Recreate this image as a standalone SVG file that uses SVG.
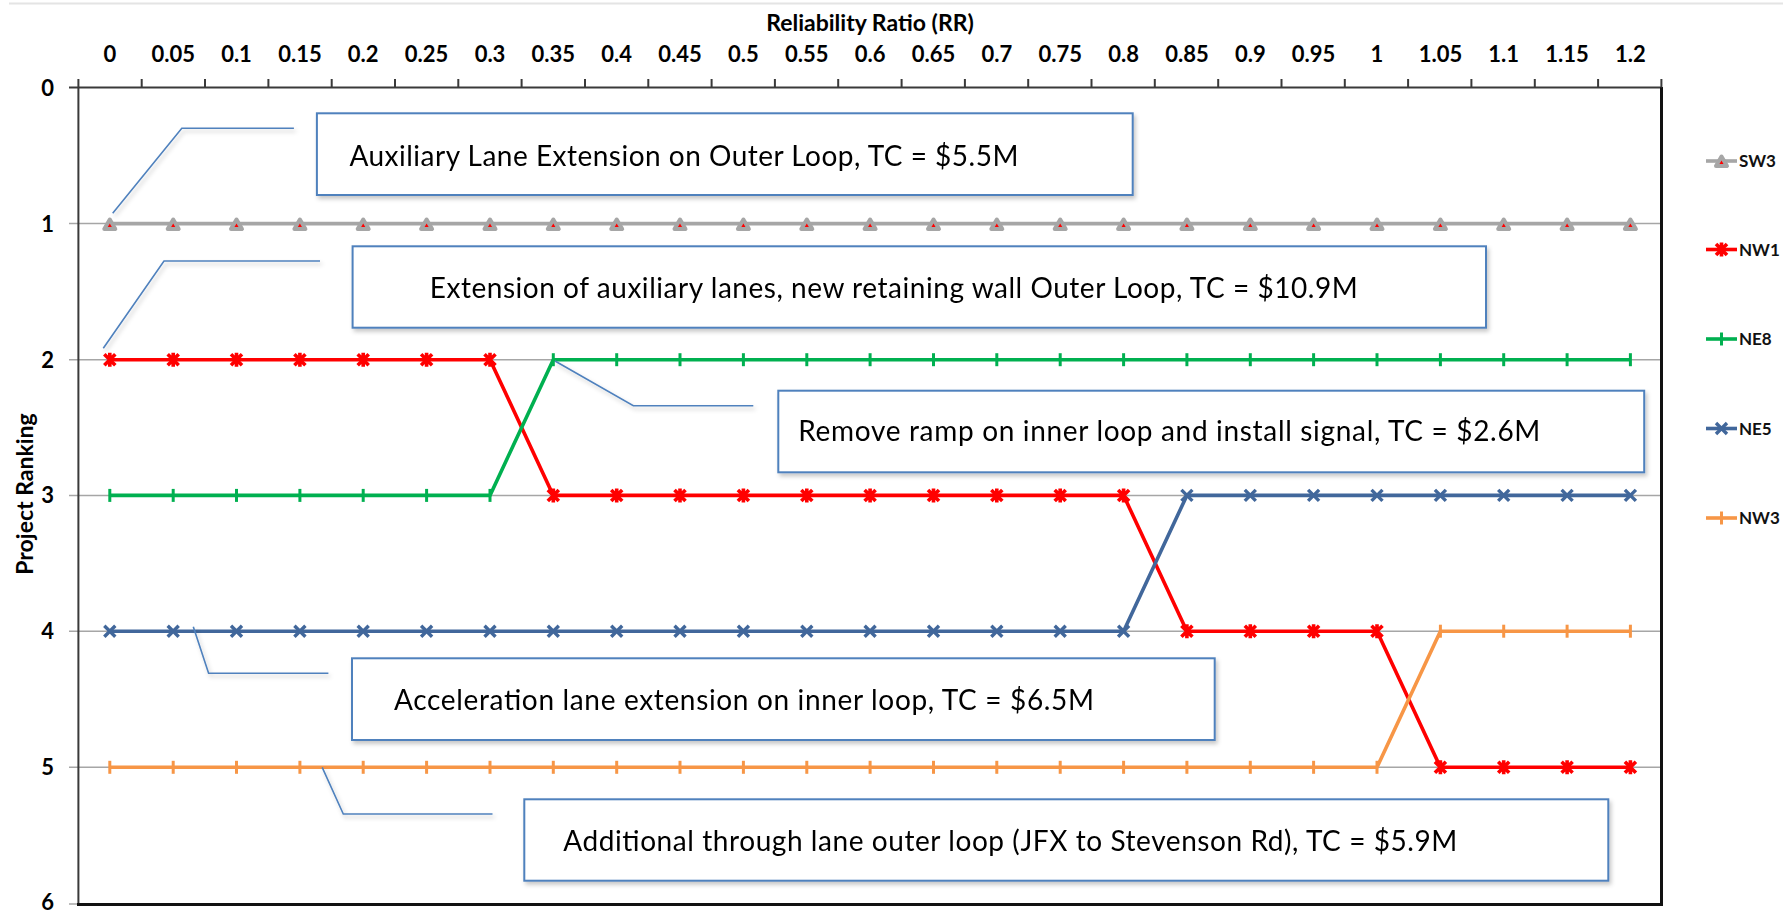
<svg xmlns="http://www.w3.org/2000/svg" xmlns:xlink="http://www.w3.org/1999/xlink" width="1783" height="912" viewBox="0 0 1783 912">
  <style>
    .tick { font-family: Lato, "Liberation Sans", sans-serif; font-weight: bold; font-size: 22px; fill: #000; }
    .xt { text-anchor: middle; }
    .yt { text-anchor: end; }
    .title { font-family: Lato, "Liberation Sans", sans-serif; font-weight: bold; font-size: 23px; fill: #000; text-anchor: middle; }
    .leg { font-family: Lato, "Liberation Sans", sans-serif; font-weight: bold; font-size: 17px; fill: #111; }
    .note { font-family: Lato, "Liberation Sans", sans-serif; font-size: 28px; fill: #000; }
    .box { fill: #fff; stroke: #4f81bd; stroke-width: 2; }
    .leader { fill: none; stroke: #4f81bd; stroke-width: 1.6; }
    .grid { stroke: #a6a6a6; stroke-width: 1.5; }
    .axis { stroke: #3a3a3a; stroke-width: 2; }
    .axis2 { stroke: #111; stroke-width: 3; }
    .series { fill: none; stroke-width: 3.6; stroke-linejoin: round; }
  </style>
  <defs>
    <filter id="shadow" filterUnits="userSpaceOnUse" x="0" y="0" width="1783" height="912">
      <feDropShadow dx="2" dy="3" stdDeviation="2" flood-color="#000" flood-opacity="0.22"/>
    </filter>
    <!-- SW3: red triangle with heavy grey rim -->
    <path id="m-tri" d="M0,-5 L5.5,4.5 L-5.5,4.5 Z" fill="#ff0000" stroke="#a6a6a6" stroke-width="4" stroke-linejoin="round"/>
    <!-- NW1: star (x plus vertical bar) -->
    <path id="m-star" d="M-5.5,-5.5 L5.5,5.5 M5.5,-5.5 L-5.5,5.5 M0,-7 V7" fill="none" stroke="#ff0000" stroke-width="3.6"/>
    <!-- NE8 / NW3: plus -->
    <path id="m-plus-g" d="M0,-6.5 V6.5" stroke="#00b050" stroke-width="3"/>
    <path id="m-plus-o" d="M0,-6.5 V6.5" stroke="#f79646" stroke-width="3"/>
    <!-- NE5: cross -->
    <path id="m-x" d="M-5.5,-5.5 L5.5,5.5 M5.5,-5.5 L-5.5,5.5" fill="none" stroke="#41679b" stroke-width="3.4"/>
  </defs>

  <rect width="1783" height="912" fill="#fff"/>

  <!-- worksheet header rule along the top edge -->
  <g id="sheet-edge" stroke="#e4e4e4">
    <line x1="9" y1="3.5" x2="1783" y2="3.5" stroke-width="2"/>
  </g>

  <!-- axis titles -->
  <g id="axis-titles">
    <text class="title" x="870" y="31">Reliability Ratio (RR)</text>
    <text class="title" transform="translate(33,494) rotate(-90)">Project Ranking</text>
  </g>

  <!-- horizontal gridlines with left tick stubs -->
  <g id="gridlines" class="grid">
    <line x1="69" y1="223.6" x2="1661" y2="223.6"/>
    <line x1="69" y1="359.7" x2="1661" y2="359.7"/>
    <line x1="69" y1="495.4" x2="1661" y2="495.4"/>
    <line x1="69" y1="631.2" x2="1661" y2="631.2"/>
    <line x1="69" y1="767.3" x2="1661" y2="767.3"/>
    <line x1="69" y1="904" x2="78" y2="904"/>
  </g>

  <!-- plot frame and top category axis -->
  <g id="axes">
    <line class="axis" x1="69" y1="87.5" x2="1661" y2="87.5"/>
    <line class="axis" x1="78.4" y1="87.5" x2="78.4" y2="905"/>
    <line class="axis2" x1="1661.5" y1="87" x2="1661.5" y2="905.5"/>
    <line class="axis2" x1="77" y1="904.5" x2="1663" y2="904.5"/>
    <path class="axis" stroke-width="1.4" d="M78.4,87.5V79 M141.7,87.5V79 M205,87.5V79 M268.4,87.5V79 M331.7,87.5V79 M395,87.5V79 M458.3,87.5V79 M521.6,87.5V79 M585,87.5V79 M648.3,87.5V79 M711.6,87.5V79 M774.9,87.5V79 M838.2,87.5V79 M901.6,87.5V79 M964.9,87.5V79 M1028.2,87.5V79 M1091.5,87.5V79 M1154.8,87.5V79 M1218.2,87.5V79 M1281.5,87.5V79 M1344.8,87.5V79 M1408.1,87.5V79 M1471.4,87.5V79 M1534.8,87.5V79 M1598.1,87.5V79 M1661.4,87.5V79"/>
  </g>

  <!-- category labels -->
  <g id="x-labels" class="tick xt">
    <text x="109.8" y="61.5">0</text>
    <text x="173.2" y="61.5">0.05</text>
    <text x="236.5" y="61.5">0.1</text>
    <text x="299.9" y="61.5">0.15</text>
    <text x="363.2" y="61.5">0.2</text>
    <text x="426.6" y="61.5">0.25</text>
    <text x="490" y="61.5">0.3</text>
    <text x="553.3" y="61.5">0.35</text>
    <text x="616.7" y="61.5">0.4</text>
    <text x="680" y="61.5">0.45</text>
    <text x="743.4" y="61.5">0.5</text>
    <text x="806.8" y="61.5">0.55</text>
    <text x="870.1" y="61.5">0.6</text>
    <text x="933.5" y="61.5">0.65</text>
    <text x="996.8" y="61.5">0.7</text>
    <text x="1060.2" y="61.5">0.75</text>
    <text x="1123.6" y="61.5">0.8</text>
    <text x="1186.9" y="61.5">0.85</text>
    <text x="1250.3" y="61.5">0.9</text>
    <text x="1313.6" y="61.5">0.95</text>
    <text x="1377" y="61.5">1</text>
    <text x="1440.4" y="61.5">1.05</text>
    <text x="1503.7" y="61.5">1.1</text>
    <text x="1567.1" y="61.5">1.15</text>
    <text x="1630.4" y="61.5">1.2</text>
  </g>

  <!-- ranking labels -->
  <g id="y-labels" class="tick yt">
    <text x="54" y="95.5">0</text>
    <text x="54" y="231.6">1</text>
    <text x="54" y="367.7">2</text>
    <text x="54" y="503.4">3</text>
    <text x="54" y="639.2">4</text>
    <text x="54" y="775.3">5</text>
    <text x="54" y="909.5">6</text>
  </g>

  <!-- data series -->
  <g id="series-SW3">
    <polyline class="series" stroke="#a6a6a6" points="109.8,223.6 1630.4,223.6"/>
    <use xlink:href="#m-tri" x="109.8" y="224.5"/><use xlink:href="#m-tri" x="173.2" y="224.5"/><use xlink:href="#m-tri" x="236.5" y="224.5"/><use xlink:href="#m-tri" x="299.9" y="224.5"/><use xlink:href="#m-tri" x="363.2" y="224.5"/><use xlink:href="#m-tri" x="426.6" y="224.5"/><use xlink:href="#m-tri" x="490" y="224.5"/><use xlink:href="#m-tri" x="553.3" y="224.5"/><use xlink:href="#m-tri" x="616.7" y="224.5"/><use xlink:href="#m-tri" x="680" y="224.5"/><use xlink:href="#m-tri" x="743.4" y="224.5"/><use xlink:href="#m-tri" x="806.8" y="224.5"/><use xlink:href="#m-tri" x="870.1" y="224.5"/><use xlink:href="#m-tri" x="933.5" y="224.5"/><use xlink:href="#m-tri" x="996.8" y="224.5"/><use xlink:href="#m-tri" x="1060.2" y="224.5"/><use xlink:href="#m-tri" x="1123.6" y="224.5"/><use xlink:href="#m-tri" x="1186.9" y="224.5"/><use xlink:href="#m-tri" x="1250.3" y="224.5"/><use xlink:href="#m-tri" x="1313.6" y="224.5"/><use xlink:href="#m-tri" x="1377" y="224.5"/><use xlink:href="#m-tri" x="1440.4" y="224.5"/><use xlink:href="#m-tri" x="1503.7" y="224.5"/><use xlink:href="#m-tri" x="1567.1" y="224.5"/><use xlink:href="#m-tri" x="1630.4" y="224.5"/>
  </g>

  <g id="series-NW1">
    <polyline class="series" stroke="#ff0000" points="109.8,359.7 490,359.7 553.3,495.4 1123.6,495.4 1186.9,631.2 1377,631.2 1440.4,767.3 1630.4,767.3"/>
    <use xlink:href="#m-star" x="109.8" y="359.7"/><use xlink:href="#m-star" x="173.2" y="359.7"/><use xlink:href="#m-star" x="236.5" y="359.7"/><use xlink:href="#m-star" x="299.9" y="359.7"/><use xlink:href="#m-star" x="363.2" y="359.7"/><use xlink:href="#m-star" x="426.6" y="359.7"/><use xlink:href="#m-star" x="490" y="359.7"/>
    <use xlink:href="#m-star" x="553.3" y="495.4"/><use xlink:href="#m-star" x="616.7" y="495.4"/><use xlink:href="#m-star" x="680" y="495.4"/><use xlink:href="#m-star" x="743.4" y="495.4"/><use xlink:href="#m-star" x="806.8" y="495.4"/><use xlink:href="#m-star" x="870.1" y="495.4"/><use xlink:href="#m-star" x="933.5" y="495.4"/><use xlink:href="#m-star" x="996.8" y="495.4"/><use xlink:href="#m-star" x="1060.2" y="495.4"/><use xlink:href="#m-star" x="1123.6" y="495.4"/>
    <use xlink:href="#m-star" x="1186.9" y="631.2"/><use xlink:href="#m-star" x="1250.3" y="631.2"/><use xlink:href="#m-star" x="1313.6" y="631.2"/><use xlink:href="#m-star" x="1377" y="631.2"/>
    <use xlink:href="#m-star" x="1440.4" y="767.3"/><use xlink:href="#m-star" x="1503.7" y="767.3"/><use xlink:href="#m-star" x="1567.1" y="767.3"/><use xlink:href="#m-star" x="1630.4" y="767.3"/>
  </g>

  <g id="series-NE8">
    <polyline class="series" stroke="#00b050" points="109.8,495.4 490,495.4 553.3,359.7 1630.4,359.7"/>
    <use xlink:href="#m-plus-g" x="109.8" y="495.4"/><use xlink:href="#m-plus-g" x="173.2" y="495.4"/><use xlink:href="#m-plus-g" x="236.5" y="495.4"/><use xlink:href="#m-plus-g" x="299.9" y="495.4"/><use xlink:href="#m-plus-g" x="363.2" y="495.4"/><use xlink:href="#m-plus-g" x="426.6" y="495.4"/><use xlink:href="#m-plus-g" x="490" y="495.4"/>
    <use xlink:href="#m-plus-g" x="553.3" y="359.7"/><use xlink:href="#m-plus-g" x="616.7" y="359.7"/><use xlink:href="#m-plus-g" x="680" y="359.7"/><use xlink:href="#m-plus-g" x="743.4" y="359.7"/><use xlink:href="#m-plus-g" x="806.8" y="359.7"/><use xlink:href="#m-plus-g" x="870.1" y="359.7"/><use xlink:href="#m-plus-g" x="933.5" y="359.7"/><use xlink:href="#m-plus-g" x="996.8" y="359.7"/><use xlink:href="#m-plus-g" x="1060.2" y="359.7"/><use xlink:href="#m-plus-g" x="1123.6" y="359.7"/><use xlink:href="#m-plus-g" x="1186.9" y="359.7"/><use xlink:href="#m-plus-g" x="1250.3" y="359.7"/><use xlink:href="#m-plus-g" x="1313.6" y="359.7"/><use xlink:href="#m-plus-g" x="1377" y="359.7"/><use xlink:href="#m-plus-g" x="1440.4" y="359.7"/><use xlink:href="#m-plus-g" x="1503.7" y="359.7"/><use xlink:href="#m-plus-g" x="1567.1" y="359.7"/><use xlink:href="#m-plus-g" x="1630.4" y="359.7"/>
  </g>

  <g id="series-NE5">
    <polyline class="series" stroke="#41679b" points="109.8,631.2 1123.6,631.2 1186.9,495.4 1630.4,495.4"/>
    <use xlink:href="#m-x" x="109.8" y="631.2"/><use xlink:href="#m-x" x="173.2" y="631.2"/><use xlink:href="#m-x" x="236.5" y="631.2"/><use xlink:href="#m-x" x="299.9" y="631.2"/><use xlink:href="#m-x" x="363.2" y="631.2"/><use xlink:href="#m-x" x="426.6" y="631.2"/><use xlink:href="#m-x" x="490" y="631.2"/><use xlink:href="#m-x" x="553.3" y="631.2"/><use xlink:href="#m-x" x="616.7" y="631.2"/><use xlink:href="#m-x" x="680" y="631.2"/><use xlink:href="#m-x" x="743.4" y="631.2"/><use xlink:href="#m-x" x="806.8" y="631.2"/><use xlink:href="#m-x" x="870.1" y="631.2"/><use xlink:href="#m-x" x="933.5" y="631.2"/><use xlink:href="#m-x" x="996.8" y="631.2"/><use xlink:href="#m-x" x="1060.2" y="631.2"/><use xlink:href="#m-x" x="1123.6" y="631.2"/>
    <use xlink:href="#m-x" x="1186.9" y="495.4"/><use xlink:href="#m-x" x="1250.3" y="495.4"/><use xlink:href="#m-x" x="1313.6" y="495.4"/><use xlink:href="#m-x" x="1377" y="495.4"/><use xlink:href="#m-x" x="1440.4" y="495.4"/><use xlink:href="#m-x" x="1503.7" y="495.4"/><use xlink:href="#m-x" x="1567.1" y="495.4"/><use xlink:href="#m-x" x="1630.4" y="495.4"/>
  </g>

  <g id="series-NW3">
    <polyline class="series" stroke="#f79646" points="109.8,767.3 1377,767.3 1440.4,631.2 1630.4,631.2"/>
    <use xlink:href="#m-plus-o" x="109.8" y="767.3"/><use xlink:href="#m-plus-o" x="173.2" y="767.3"/><use xlink:href="#m-plus-o" x="236.5" y="767.3"/><use xlink:href="#m-plus-o" x="299.9" y="767.3"/><use xlink:href="#m-plus-o" x="363.2" y="767.3"/><use xlink:href="#m-plus-o" x="426.6" y="767.3"/><use xlink:href="#m-plus-o" x="490" y="767.3"/><use xlink:href="#m-plus-o" x="553.3" y="767.3"/><use xlink:href="#m-plus-o" x="616.7" y="767.3"/><use xlink:href="#m-plus-o" x="680" y="767.3"/><use xlink:href="#m-plus-o" x="743.4" y="767.3"/><use xlink:href="#m-plus-o" x="806.8" y="767.3"/><use xlink:href="#m-plus-o" x="870.1" y="767.3"/><use xlink:href="#m-plus-o" x="933.5" y="767.3"/><use xlink:href="#m-plus-o" x="996.8" y="767.3"/><use xlink:href="#m-plus-o" x="1060.2" y="767.3"/><use xlink:href="#m-plus-o" x="1123.6" y="767.3"/><use xlink:href="#m-plus-o" x="1186.9" y="767.3"/><use xlink:href="#m-plus-o" x="1250.3" y="767.3"/><use xlink:href="#m-plus-o" x="1313.6" y="767.3"/><use xlink:href="#m-plus-o" x="1377" y="767.3"/>
    <use xlink:href="#m-plus-o" x="1440.4" y="631.2"/><use xlink:href="#m-plus-o" x="1503.7" y="631.2"/><use xlink:href="#m-plus-o" x="1567.1" y="631.2"/><use xlink:href="#m-plus-o" x="1630.4" y="631.2"/>
  </g>

  <!-- callout leader lines -->
  <g id="connectors" class="leader" filter="url(#shadow)">
    <polyline points="112.7,213.3 181.8,128.3 293.9,128.3"/>
    <polyline points="103.3,348.3 164,261 320,261"/>
    <polyline points="555,361 633.3,405.7 753.3,405.7"/>
    <polyline points="193.3,626.7 208.6,673.3 328.4,673.3"/>
    <polyline points="322.2,767.3 343.3,814 492.5,814"/>
  </g>

  <!-- callout boxes -->
  <g id="note-SW3" filter="url(#shadow)">
    <rect class="box" x="316.9" y="113.3" width="815.8" height="81.7"/>
    <text class="note" x="349.4" y="165.7" textLength="669">Auxiliary Lane Extension on Outer Loop, TC = $5.5M</text>
  </g>
  <g id="note-NW1" filter="url(#shadow)">
    <rect class="box" x="352.6" y="246.3" width="1133.4" height="81.4"/>
    <text class="note" x="429.7" y="297.7" textLength="928">Extension of auxiliary lanes, new retaining wall Outer Loop, TC = $10.9M</text>
  </g>
  <g id="note-NE8" filter="url(#shadow)">
    <rect class="box" x="778.3" y="390.7" width="865.9" height="81.6"/>
    <text class="note" x="798.3" y="441.3" textLength="742">Remove ramp on inner loop and install signal, TC = $2.6M</text>
  </g>
  <g id="note-NE5" filter="url(#shadow)">
    <rect class="box" x="352" y="658.3" width="862.7" height="81.7"/>
    <text class="note" x="394" y="710" textLength="700">Acceleration lane extension on inner loop, TC = $6.5M</text>
  </g>
  <g id="note-NW3" filter="url(#shadow)">
    <rect class="box" x="524.3" y="799.3" width="1084" height="81.4"/>
    <text class="note" x="563.3" y="851" textLength="894">Additional through lane outer loop (JFX to Stevenson Rd), TC = $5.9M</text>
  </g>

  <!-- legend -->
  <g id="legend">
    <g id="legend-SW3">
      <line x1="1706" y1="161" x2="1737" y2="161" stroke="#a6a6a6" stroke-width="3.6"/>
      <use xlink:href="#m-tri" x="1721.5" y="161.5"/>
      <text class="leg" x="1739" y="167">SW3</text>
    </g>
    <g id="legend-NW1">
      <line x1="1706" y1="249.5" x2="1737" y2="249.5" stroke="#ff0000" stroke-width="3.6"/>
      <use xlink:href="#m-star" x="1721.5" y="249.5"/>
      <text class="leg" x="1739" y="255.5">NW1</text>
    </g>
    <g id="legend-NE8">
      <line x1="1706" y1="339" x2="1737" y2="339" stroke="#00b050" stroke-width="3.6"/>
      <use xlink:href="#m-plus-g" x="1721.5" y="339"/>
      <text class="leg" x="1739" y="345">NE8</text>
    </g>
    <g id="legend-NE5">
      <line x1="1706" y1="428.5" x2="1737" y2="428.5" stroke="#41679b" stroke-width="3.6"/>
      <use xlink:href="#m-x" x="1721.5" y="428.5"/>
      <text class="leg" x="1739" y="434.5">NE5</text>
    </g>
    <g id="legend-NW3">
      <line x1="1706" y1="518" x2="1737" y2="518" stroke="#f79646" stroke-width="3.6"/>
      <use xlink:href="#m-plus-o" x="1721.5" y="518"/>
      <text class="leg" x="1739" y="524">NW3</text>
    </g>
  </g>
</svg>
